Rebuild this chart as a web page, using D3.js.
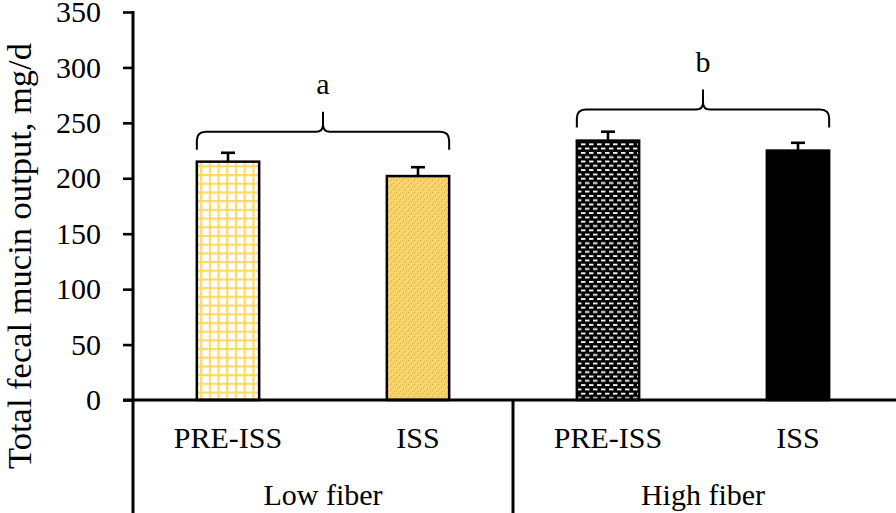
<!DOCTYPE html>
<html>
<head>
<meta charset="utf-8">
<script src="https://cdn.jsdelivr.net/npm/d3@7"></script>
<style>
  html, body { margin: 0; padding: 0; background: #fff; }
  svg { display: block; }
  text { font-family: "Liberation Serif", "Times New Roman", serif; fill: #000; }
</style>
</head>
<body>
<svg id="chart" width="896" height="513"></svg>
<script>
// ---- data ----
const categories = ["PRE-ISS", "ISS", "PRE-ISS", "ISS"];
const groups = ["Low fiber", "High fiber"];
const means = [215, 202, 234, 225];
const errors = [8, 8, 8, 7];
const yTicks = [0, 50, 100, 150, 200, 250, 300, 350];
const bracketLabels = ["a", "b"];
const bracketLevels = [242, 262];   // value level of bracket horizontal line
const yLabel = "Total fecal mucin output, mg/d";

// ---- layout ----
const W = 896, H = 513;
const axisX = 133, right = 893, baseY = 400, topY = 12;
const svg = d3.select("#chart");

const x = d3.scaleBand().domain(d3.range(categories.length)).range([axisX, right]).padding(0);
const y = d3.scaleLinear().domain([0, 350]).range([baseY, topY]);
const barW = x.step() * 0.328;
const cx = i => x(i) + x.step() / 2;

// ---- patterns ----
const defs = svg.append("defs");
const pg = defs.append("pattern").attr("id", "grid").attr("patternUnits", "userSpaceOnUse")
  .attr("width", 8.7).attr("height", 8.7).attr("x", 0).attr("y", 0);
pg.append("rect").attr("width", 8.7).attr("height", 8.7).attr("fill", "#FFD966");
pg.append("rect").attr("x", 2.2).attr("y", 2.2).attr("width", 6.5).attr("height", 6.5).attr("fill", "#ffffff");
const pd = defs.append("pattern").attr("id", "dots").attr("patternUnits", "userSpaceOnUse")
  .attr("width", 6).attr("height", 6);
pd.append("rect").attr("width", 6).attr("height", 6).attr("fill", "#F9D56B");
pd.append("rect").attr("x", 0).attr("y", 0).attr("width", 1).attr("height", 1).attr("fill", "#C9A548");
pd.append("rect").attr("x", 3).attr("y", 3).attr("width", 1).attr("height", 1).attr("fill", "#C9A548");
pd.append("rect").attr("x", 4).attr("y", 1).attr("width", 1).attr("height", 1).attr("fill", "#D8B555");
pd.append("rect").attr("x", 1).attr("y", 4).attr("width", 1).attr("height", 1).attr("fill", "#D8B555");
const pb = defs.append("pattern").attr("id", "brick").attr("patternUnits", "userSpaceOnUse")
  .attr("width", 8).attr("height", 8.6);
pb.append("rect").attr("width", 8).attr("height", 8.6).attr("fill", "#000");
pb.append("rect").attr("x", 1).attr("y", 1.5).attr("width", 4.5).attr("height", 1.8).attr("fill", "#fff");
pb.append("rect").attr("x", 5).attr("y", 5.8).attr("width", 4.5).attr("height", 1.8).attr("fill", "#fff");
pb.append("rect").attr("x", -3).attr("y", 5.8).attr("width", 4.5).attr("height", 1.8).attr("fill", "#fff");
const fills = ["url(#grid)", "url(#dots)", "url(#brick)", "#000"];

// ---- bars ----
svg.append("g").selectAll("rect").data(means).join("rect")
  .attr("x", (d, i) => cx(i) - barW / 2)
  .attr("y", d => y(d))
  .attr("width", barW)
  .attr("height", d => y(0) - y(d))
  .attr("fill", (d, i) => fills[i])
  .attr("stroke", "#000").attr("stroke-width", 2.5);

// ---- error bars ----
const eb = svg.append("g").attr("stroke", "#000").attr("stroke-width", 2.6);
means.forEach((m, i) => {
  eb.append("line").attr("x1", cx(i)).attr("x2", cx(i)).attr("y1", y(m)).attr("y2", y(m + errors[i]));
  eb.append("line").attr("x1", cx(i) - 7).attr("x2", cx(i) + 7).attr("y1", y(m + errors[i])).attr("y2", y(m + errors[i]));
});

// ---- y axis ----
const yAxis = d3.axisLeft(y).tickValues(yTicks).tickSize(10).tickPadding(22);
const ga = svg.append("g").attr("transform", `translate(${axisX},0)`).call(yAxis);
ga.select(".domain").remove();
ga.selectAll(".tick line").attr("stroke", "#000").attr("stroke-width", 2.6);
ga.selectAll(".tick text").style("font-family", "Liberation Serif, serif").style("font-size", "30px").attr("fill", "#000");
svg.append("line").attr("x1", axisX).attr("x2", axisX).attr("y1", topY - 1).attr("y2", H)
  .attr("stroke", "#000").attr("stroke-width", 3);

// ---- baseline and table ----
svg.append("line").attr("x1", axisX - 10).attr("x2", W).attr("y1", baseY).attr("y2", baseY)
  .attr("stroke", "#000").attr("stroke-width", 3);
const sepX = x(2);
svg.append("line").attr("x1", sepX).attr("x2", sepX).attr("y1", baseY).attr("y2", H)
  .attr("stroke", "#000").attr("stroke-width", 3);

svg.append("g").selectAll("text").data(categories).join("text")
  .attr("x", (d, i) => cx(i)).attr("y", 448)
  .attr("text-anchor", "middle").style("font-size", "30px").text(d => d);

svg.append("g").selectAll("text").data(groups).join("text")
  .attr("x", (d, g) => (x(g * 2) + x(g * 2 + 1) + x.step()) / 2).attr("y", 505)
  .attr("text-anchor", "middle").style("font-size", "30px").text(d => d);

// ---- brackets ----
const bg = svg.append("g");
bracketLevels.forEach((lv, g) => {
  const x1 = cx(g * 2) - barW / 2, x2 = cx(g * 2 + 1) + barW / 2, xm = (x1 + x2) / 2;
  const yb = y(lv), arm = 18, tip = yb - 20, r = 9;
  const p = d3.path();
  p.moveTo(x1, yb + arm);
  p.lineTo(x1, yb + r);
  p.quadraticCurveTo(x1, yb, x1 + r, yb);
  p.lineTo(xm - 7, yb);
  p.quadraticCurveTo(xm, yb, xm, yb - 7);
  p.lineTo(xm, tip);
  p.moveTo(xm, yb - 7);
  p.quadraticCurveTo(xm, yb, xm + 7, yb);
  p.lineTo(x2 - r, yb);
  p.quadraticCurveTo(x2, yb, x2, yb + r);
  p.lineTo(x2, yb + arm);
  bg.append("path").attr("d", p.toString()).attr("fill", "none").attr("stroke", "#000").attr("stroke-width", 2);
  bg.append("text").attr("x", xm).attr("y", tip - 18).attr("text-anchor", "middle")
    .style("font-size", "30px").text(bracketLabels[g]);
});

// ---- y label ----
svg.append("text").attr("transform", `translate(31,256) rotate(-90)`)
  .attr("text-anchor", "middle").style("font-size", "34.5px").text(yLabel);
</script>
</body>
</html>
